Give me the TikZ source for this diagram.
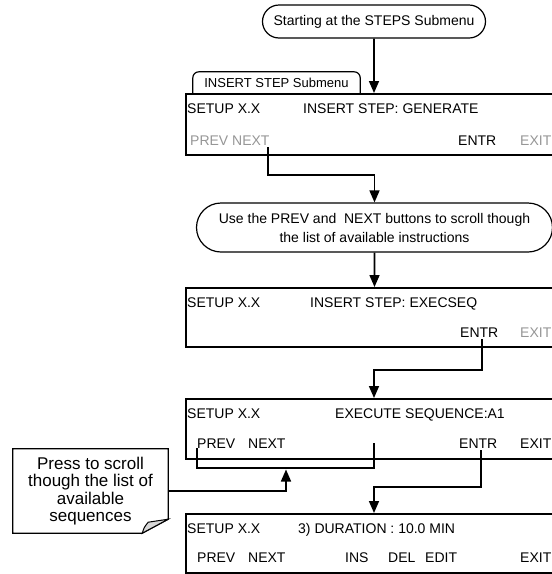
\documentclass[tikz,border=0pt]{standalone}
\usepackage{fontspec}
\setmainfont{Liberation Sans}
\usetikzlibrary{arrows.meta,positioning,shapes.misc,calc}
\definecolor{ink}{RGB}{0,0,0}
\definecolor{dim}{RGB}{150,150,150}
\definecolor{flap}{RGB}{215,215,215}
\tikzset{
  >={Triangle[length=12pt,width=10pt]},
  screen/.style={draw=ink,line width=1.6pt,minimum width=420pt,anchor=north west,inner sep=0pt},
  pill/.style={rounded rectangle,draw=ink,line width=1.2pt,align=center,inner sep=0pt,
    font=\fontsize{14}{19}\selectfont},
  lcd/.style={text=#1,anchor=base west,inner sep=0pt,font=\fontsize{14}{16}\selectfont},
  lcd/.default=ink,
  tabtext/.style={inner sep=0pt,font=\fontsize{13}{15}\selectfont},
  tabline/.style={draw=ink,line width=1.2pt,rounded corners=6pt},
  notetext/.style={inner sep=0pt,align=center,font=\fontsize{17}{17.5}\selectfont},
  flow/.style={->,line width=1.6pt,draw=ink},
  link/.style={line width=1.6pt,draw=ink},
}
\begin{document}
\begin{tikzpicture}[x=1pt,y=-1pt]
  \useasboundingbox (0,0) rectangle (552,574);
  % screens
  \node[screen,minimum height=61pt] (scr1) at (185,93) {};
  \node[screen,minimum height=59pt] (scr2) at (185,287) {};
  \node[screen,minimum height=60pt] (scr3) at (185,398) {};
  \node[screen,minimum height=59pt] (scr4) at (185,513) {};
  % start and submenu tab
  \node[pill,minimum width=223pt,minimum height=33pt] (start) at (374,21.5) {Starting at the STEPS Submenu};
  \node[tabtext,minimum width=167pt,minimum height=21pt] (tab) at (276.5,82.5) {INSERT STEP Submenu};
  \draw[tabline] (tab.south west) |- (tab.north) -| (tab.south east);
  % screen 1
  \node[lcd] (s1setup) at (187,113) {SETUP X.X};
  \node[lcd] (s1msg) at (303,113) {INSERT STEP: GENERATE};
  \foreach \x/\t/\c/\n in {190/PREV/dim/s1prev,232/NEXT/dim/s1next,458/ENTR/ink/s1entr,520/EXIT/dim/s1exit}
    \node[lcd=\c] (\n) at (\x,145) {\t};
  % hint
  \node[pill,minimum width=356pt,minimum height=49pt] (use) at (374.5,227.5)
    {Use the PREV and\ \ NEXT buttons to scroll though\\the list of available instructions};
  % screen 2
  \node[lcd] (s2setup) at (187,307) {SETUP X.X};
  \node[lcd] (s2msg) at (310,307) {INSERT STEP: EXECSEQ};
  \node[lcd] (s2entr) at (460,337) {ENTR};
  \node[lcd=dim] (s2exit) at (520,337) {EXIT};
  % screen 3
  \node[lcd] (s3setup) at (187,418) {SETUP X.X};
  \node[lcd] (s3msg) at (335,418) {EXECUTE SEQUENCE:A1};
  \foreach \x/\t/\n in {197/PREV/s3prev,248/NEXT/s3next,459/ENTR/s3entr,520/EXIT/s3exit}
    \node[lcd] (\n) at (\x,448) {\t};
  % screen 4
  \node[lcd] (s4setup) at (187,533) {SETUP X.X};
  \node[lcd] (s4msg) at (298,533) {3) DURATION : 10.0 MIN};
  \foreach \x/\t/\n in {197/PREV/s4prev,248/NEXT/s4next,345/INS/s4ins,388/DEL/s4del,425/EDIT/s4edit,520/EXIT/s4exit}
    \node[lcd] (\n) at (\x,562) {\t};
  % note with folded corner
  \node[notetext,minimum width=155pt,minimum height=84pt] (note) at (90.5,491)
    {Press to scroll\\though the list of\\available\\sequences};
  \draw[line width=1.3pt] (note.north west) -- (note.north east) -- ([yshift=14pt]note.south east)
    -- ([xshift=-26pt]note.south east) -- (note.south west) -- cycle;
  \filldraw[fill=flap,line width=1pt] ([xshift=-26pt]note.south east)
    .. controls ([xshift=-24pt,yshift=6pt]note.south east) .. ([xshift=-20pt,yshift=11pt]note.south east)
    -- ([yshift=14pt]note.south east) -- cycle;
  % connectors
  \coordinate (k1) at ($(s1next.south east)+(-2,2)$);
  \coordinate (k2) at ($(s2entr.south)+(3,2)$);
  \coordinate (k4) at ($(s3entr.south)+(3,2)$);
  \coordinate (brk) at (286,469.5);
  \draw[flow] (start) -- (start |- scr1.north);
  \draw[flow] (k1) -- ++(0,28) -| (use.north);
  \draw[flow] (use) -- (use |- scr2.north);
  \draw[flow] (k2) -- ++(0,31) -| (scr3.north -| start);
  \draw[link] (s3prev.south west) -- ++(0,20) -| ($(scr3.north -| start)+(0,45)$);
  \draw[flow] (note.east) -| (brk);
  \draw[flow] (k4) -- ++(0,37) -| (scr4.north -| start);
\end{tikzpicture}
\end{document}
